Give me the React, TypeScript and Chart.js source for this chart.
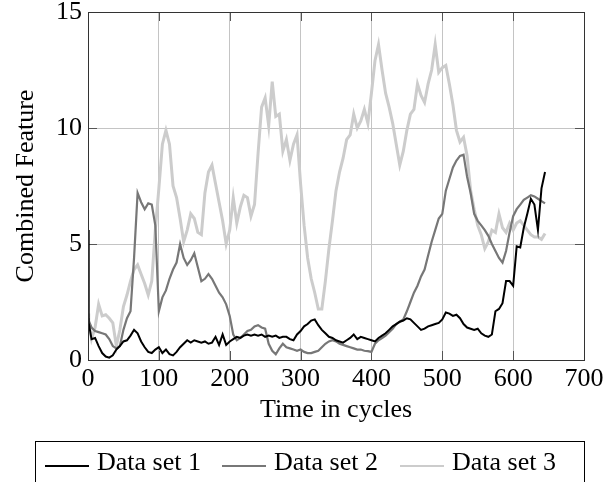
import { useEffect, useRef } from 'react';
import { Chart, registerables } from 'chart.js';

Chart.register(...registerables);

// x positions (cycles): 0, 1, then every 5 cycles up to 645
const cycles = [0, 1, ...Array.from({ length: 129 }, (_, i) => 5 * (i + 1))];

const dataSet1 = [
  5.6, 1.6,
  0.9, 0.95, 0.6, 0.3, 0.15, 0.1, 0.2, 0.45, 0.6, 0.8,
  0.85, 1.05, 1.3, 1.15, 0.8, 0.55, 0.35, 0.3, 0.45, 0.55,
  0.3, 0.45, 0.25, 0.2, 0.35, 0.55, 0.7, 0.85, 0.75, 0.85,
  0.8, 0.75, 0.8, 0.7, 0.75, 1.0, 0.65, 1.1, 0.65, 0.8,
  0.9, 1.0, 0.95, 1.05, 1.1, 1.05, 1.1, 1.05, 1.1, 1.0,
  1.05, 1.0, 1.05, 0.95, 1.0, 1.0, 0.9, 0.85, 1.1, 1.25,
  1.45, 1.55, 1.7, 1.75, 1.5, 1.3, 1.15, 1.0, 0.95, 0.85,
  0.8, 0.75, 0.85, 0.95, 1.1, 0.9, 1.0, 0.95, 0.9, 0.85,
  0.8, 0.95, 1.05, 1.15, 1.3, 1.45, 1.55, 1.65, 1.7, 1.8,
  1.75, 1.6, 1.45, 1.3, 1.35, 1.45, 1.5, 1.55, 1.6, 1.75,
  2.05, 2.0, 1.9, 1.95, 1.8, 1.55, 1.4, 1.35, 1.3, 1.35,
  1.15, 1.05, 1.0, 1.1, 2.1, 2.2, 2.45, 3.4, 3.4, 3.2,
  4.9, 4.85, 5.7, 6.3, 6.95, 6.7, 5.6, 7.4, 8.1,
];

const dataSet2 = [
  1.8, 1.7,
  1.4, 1.25, 1.2, 1.15, 1.1, 0.9, 0.6, 0.5, 0.6, 1.3,
  1.8, 2.1, 4.4, 7.2, 6.8, 6.5, 6.75, 6.7, 5.8, 2.1,
  2.7, 3.0, 3.5, 3.9, 4.2, 5.0, 4.4, 4.1, 4.3, 4.6,
  4.0, 3.4, 3.5, 3.7, 3.5, 3.2, 2.9, 2.7, 2.4, 1.9,
  1.1, 0.85, 0.95, 1.1, 1.25, 1.3, 1.45, 1.5, 1.4, 1.35,
  0.7, 0.4, 0.25, 0.5, 0.7, 0.55, 0.5, 0.45, 0.4, 0.45,
  0.35, 0.3, 0.3, 0.35, 0.4, 0.55, 0.7, 0.8, 0.85, 0.8,
  0.7, 0.65, 0.6, 0.55, 0.5, 0.45, 0.45, 0.4, 0.38, 0.35,
  0.7, 0.85, 0.95, 1.05, 1.2, 1.35, 1.55, 1.65, 1.75, 2.1,
  2.5, 2.9, 3.2, 3.6, 3.9, 4.5, 5.1, 5.6, 6.1, 6.3,
  7.3, 7.8, 8.3, 8.6, 8.8, 8.85, 7.9, 7.2, 6.3, 6.0,
  5.8, 5.6, 5.35, 5.0, 4.7, 4.4, 4.2, 4.7, 5.5, 6.2,
  6.5, 6.7, 6.9, 7.0, 7.1, 7.05, 6.95, 6.85, 6.75,
];

const dataSet3 = [
  2.0, 1.6,
  0.9, 1.4, 2.4, 1.9, 1.95, 1.8, 1.6, 0.6, 1.3, 2.3,
  2.8, 3.4, 3.9, 4.1, 3.7, 3.3, 2.8, 3.4, 5.6, 7.4,
  9.3, 9.9, 9.3, 7.5, 7.0, 6.1, 5.1, 5.6, 6.3, 6.1,
  5.5, 5.4, 7.2, 8.1, 8.4, 7.6, 6.8, 6.0, 5.0, 5.6,
  7.0, 5.9, 6.6, 7.1, 7.0, 6.2, 6.7, 8.9, 10.9, 11.3,
  10.1, 12.0, 10.5, 10.6, 9.0, 9.5, 8.6, 9.3, 9.7, 7.6,
  5.8, 4.4, 3.5, 2.9, 2.2, 2.2, 3.4, 4.8, 6.0, 7.3,
  8.1, 8.7, 9.5, 9.7, 10.6, 10.0, 10.3, 10.8, 10.2, 11.5,
  12.9, 13.6, 12.5, 11.5, 10.9, 10.2, 9.3, 8.4, 9.0, 9.9,
  10.6, 10.8, 11.9, 11.4, 11.1, 11.9, 12.5, 13.6, 12.4, 12.6,
  12.7, 11.9, 11.0, 9.9, 9.4, 9.6, 8.8, 7.3, 6.5, 5.8,
  5.4, 4.8, 5.1, 5.6, 5.5, 6.3, 5.7, 5.5, 5.9, 5.6,
  5.9, 6.0, 5.8, 5.6, 5.4, 5.3, 5.3, 5.2, 5.45,
];

const seriesLabels = ['Data set 1', 'Data set 2', 'Data set 3'];
const seriesValues = [dataSet1, dataSet2, dataSet3];
const seriesColors = ['#000000', '#777777', '#cccccc'];
const seriesWidths = [2, 2.2, 3];

const xTitle = 'Time in cycles';
const yTitle = 'Combined Feature';
const xRange = [0, 700];
const yRange = [0, 15];
const xStep = 100;
const yStep = 5;

const FONT = "'Liberation Serif', 'Times New Roman', serif";
const FONT_SIZE = 26;

const framePlugin = {
  id: 'frameTicks',
  beforeDatasetsDraw(chart: any) {
    const { ctx, chartArea, scales } = chart;
    const { left, right, top, bottom } = chartArea;
    const len = 9;
    ctx.save();
    ctx.strokeStyle = '#555555';
    ctx.lineWidth = 1;
    ctx.beginPath();
    scales.x.ticks.forEach((t: any) => {
      const px = Math.round(scales.x.getPixelForValue(t.value)) + 0.5;
      ctx.moveTo(px, bottom);
      ctx.lineTo(px, bottom - len);
      ctx.moveTo(px, top);
      ctx.lineTo(px, top + len);
    });
    scales.y.ticks.forEach((t: any) => {
      const py = Math.round(scales.y.getPixelForValue(t.value)) + 0.5;
      ctx.moveTo(left, py);
      ctx.lineTo(left + len, py);
      ctx.moveTo(right, py);
      ctx.lineTo(right - len, py);
    });
    ctx.stroke();
    ctx.restore();
  },
  afterDatasetsDraw(chart: any) {
    const { ctx, chartArea } = chart;
    const { left, right, top, bottom } = chartArea;
    ctx.save();
    ctx.strokeStyle = '#333333';
    ctx.lineWidth = 1;
    ctx.strokeRect(Math.round(left) + 0.5, Math.round(top) + 0.5, Math.round(right - left), Math.round(bottom - top));
    ctx.restore();
  },
};

const legendPlugin = {
  id: 'boxLegend',
  afterDraw(chart: any) {
    const { ctx } = chart;
    const boxLeft = 35;
    const boxTop = 441;
    const boxRight = 584;
    const lineY = 466;
    const baseline = 470;
    const lineStarts = [45, 222, 400];
    const lineLen = 44;
    ctx.save();
    ctx.strokeStyle = '#000000';
    ctx.lineWidth = 1;
    ctx.strokeRect(boxLeft + 0.5, boxTop + 0.5, boxRight - boxLeft, 80);
    ctx.font = `${FONT_SIZE}px ${FONT}`;
    ctx.textBaseline = 'alphabetic';
    ctx.fillStyle = '#000000';
    chart.data.datasets.forEach((ds: any, i: number) => {
      ctx.strokeStyle = ds.borderColor;
      ctx.lineWidth = 2;
      ctx.beginPath();
      ctx.moveTo(lineStarts[i], lineY);
      ctx.lineTo(lineStarts[i] + lineLen, lineY);
      ctx.stroke();
      ctx.fillText(ds.label, lineStarts[i] + lineLen + 8, baseline);
    });
    ctx.restore();
  },
};

export default function App() {
  const canvasRef = useRef<HTMLCanvasElement | null>(null);

  useEffect(() => {
    if (!canvasRef.current) return;
    const font = { family: FONT, size: FONT_SIZE, lineHeight: 1.2 };
    const chart = new Chart(canvasRef.current, {
      type: 'line',
      data: {
        datasets: seriesLabels.map((label, i) => ({
          label,
          data: cycles.map((c, j) => ({ x: c, y: seriesValues[i][j] })),
          borderColor: seriesColors[i],
          backgroundColor: seriesColors[i],
          borderWidth: seriesWidths[i],
          pointRadius: 0,
          tension: 0,
          fill: false,
        })),
      },
      options: {
        animation: false,
        responsive: false,
        devicePixelRatio: 1,
        layout: { padding: { left: 0, top: 12, right: 29, bottom: 0 } },
        plugins: {
          legend: { display: false },
          tooltip: { enabled: false },
        },
        scales: {
          x: {
            type: 'linear',
            min: xRange[0],
            max: xRange[1],
            ticks: { stepSize: xStep, font, color: '#000000', padding: 4, maxRotation: 0 },
            grid: { color: '#c4c4c4', drawTicks: false, lineWidth: 1 },
            border: { display: false },
            title: { display: true, text: xTitle, font, color: '#000000', padding: { top: 0, bottom: 56 } },
            afterFit: (s: any) => {
              s.height = 122;
              s.paddingLeft = 0;
              s.paddingRight = 0;
            },
          },
          y: {
            min: yRange[0],
            max: yRange[1],
            ticks: { stepSize: yStep, font, color: '#000000', padding: 6 },
            grid: { color: '#c4c4c4', drawTicks: false, lineWidth: 1 },
            border: { display: false },
            title: { display: true, text: yTitle, font, color: '#000000', padding: { top: 11, bottom: 0 } },
            afterFit: (s: any) => {
              s.width = 88;
              s.paddingTop = 0;
              s.paddingBottom = 0;
            },
          },
        },
      },
      plugins: [framePlugin, legendPlugin],
    });
    return () => chart.destroy();
  }, []);

  return (
    <div style={{ position: 'absolute', left: 0, top: 0, width: 613, height: 482 }}>
      <canvas ref={canvasRef} width={613} height={482} style={{ width: 613, height: 482 }} />
    </div>
  );
}
